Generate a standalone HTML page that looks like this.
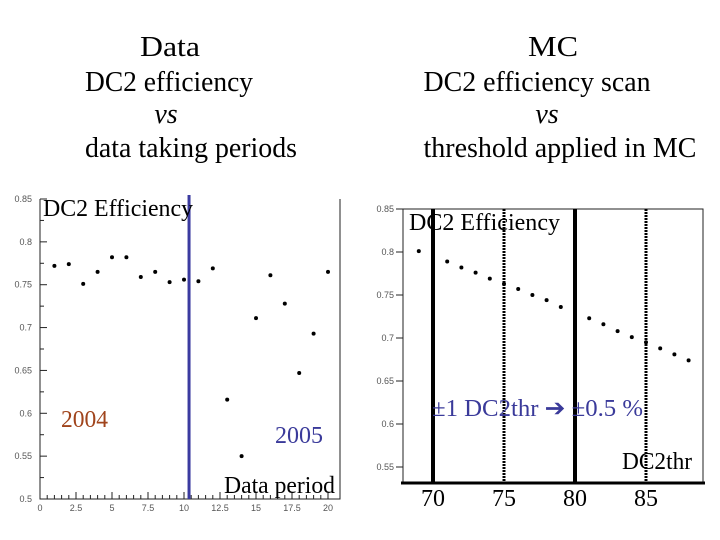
<!DOCTYPE html>
<html><head><meta charset="utf-8"><style>
html,body{margin:0;padding:0;background:#fff;}
svg{display:block;font-family:"Liberation Serif",serif;}
.tk{font-family:"Liberation Sans",sans-serif;font-size:9px;fill:#555;}
</style></head><body>
<svg id="s" width="720" height="540" viewBox="0 0 720 540" xmlns="http://www.w3.org/2000/svg">
<g font-size="28" text-anchor="middle" fill="#000" lengthAdjust="spacingAndGlyphs">
<text x="170" y="56" textLength="60" lengthAdjust="spacingAndGlyphs">Data</text>
<text x="169" y="91" textLength="168" lengthAdjust="spacingAndGlyphs">DC2 efficiency</text>
<text x="166" y="123" font-style="italic">vs</text>
<text x="191" y="157" textLength="212" lengthAdjust="spacingAndGlyphs">data taking periods</text>
<text x="553" y="56" textLength="50" lengthAdjust="spacingAndGlyphs">MC</text>
<text x="537" y="91" textLength="227" lengthAdjust="spacingAndGlyphs">DC2 efficiency scan</text>
<text x="547" y="123" font-style="italic">vs</text>
<text x="560" y="157" textLength="273" lengthAdjust="spacingAndGlyphs">threshold applied in MC</text>
</g>
<g id="left"></g>
<g id="right"></g>
</svg>
<script>
const dataPeriods=[1,2,3,4,5,6,7,8,9,10,11,12,13,14,15,16,17,18,19,20];
const dataEff=[0.772,0.774,0.751,0.765,0.782,0.782,0.759,0.765,0.753,0.756,0.754,0.769,0.616,0.550,0.711,0.761,0.728,0.647,0.693,0.765];
const dataXTicks=["0","2.5","5","7.5","10","12.5","15","17.5","20"];
const dataYTicks=["0.5","0.55","0.6","0.65","0.7","0.75","0.8","0.85"];
const splitPeriod=10.35;
const mcThr=[69,70,71,72,73,74,75,76,77,78,79,80,81,82,83,84,85,86,87,88];
const mcEff=[0.801,0.795,0.789,0.782,0.776,0.769,0.763,0.757,0.750,0.744,0.736,0.730,0.723,0.716,0.708,0.701,0.695,0.688,0.681,0.674];
const mcXTicks=["70","75","80","85"];
const mcYTicks=["0.55","0.6","0.65","0.7","0.75","0.8","0.85"];
const solidLines=[70,80];
const dottedLines=[75,85];

const NS="http://www.w3.org/2000/svg";
function mk(p,t,a){const e=document.createElementNS(NS,t);for(const k in a)e.setAttribute(k,a[k]);p.appendChild(e);return e;}

const L=document.getElementById('left');
const lx=v=>40+(v-0)*(328-40)/20;
const ly=v=>499-(v-0.5)*(300/0.35);
let e;
e=mk(L,'path',{d:`M40 199V499H340V199`,fill:'none',stroke:'#222','stroke-width':1});

dataYTicks.forEach(t=>{const v=+t;
 e=mk(L,'line',{x1:40,x2:47,y1:ly(v),y2:ly(v),stroke:'#222'});
 
 if(v<0.85){const m=mk(L,'line',{x1:40,x2:44,y1:ly(v+0.025),y2:ly(v+0.025),stroke:'#222'});}
 e=mk(L,'text',{x:32,y:ly(v)+3,'text-anchor':'end',class:'tk'});e.textContent=t;
 });
dataXTicks.forEach(t=>{const v=+t;
 e=mk(L,'line',{x1:lx(v),x2:lx(v),y1:499,y2:492,stroke:'#222'});
 
 for(let k=1;k<5&&v<20;k++){const m=mk(L,'line',{x1:lx(v+k*0.5),x2:lx(v+k*0.5),y1:499,y2:495,stroke:'#222'});}
 e=mk(L,'text',{x:lx(v),y:511,'text-anchor':'middle',class:'tk'});e.textContent=t;
 });
dataPeriods.forEach((p,i)=>{e=mk(L,'circle',{cx:lx(p),cy:ly(dataEff[i]),r:2,fill:'#000'});
 });
e=mk(L,'line',{x1:lx(splitPeriod),x2:lx(splitPeriod),y1:195,y2:499,stroke:'#3b3ba0','stroke-width':3});

[[43,216,'DC2 Efficiency','#000','data-chart-title',150],[61,427,'2004','#a0441c','label-2004',47],[275,443,'2005','#3a3a9a','label-2005',48],[224,493,'Data period','#000','x-axis-title',111]].forEach(a=>{
 e=mk(L,'text',{x:a[0],y:a[1],fill:a[3],'font-size':24,textLength:a[5],lengthAdjust:'spacingAndGlyphs'});e.textContent=a[2];
 });

const R=document.getElementById('right');
const rx=v=>433+(v-70)*14.2;
const ry=v=>252-(v-0.8)*(43/0.05);
e=mk(R,'path',{d:`M403 483V209H703V483`,fill:'none',stroke:'#222','stroke-width':1});

e=mk(R,'line',{x1:401,x2:705,y1:483,y2:483,stroke:'#000','stroke-width':3});

mcYTicks.forEach(t=>{const v=+t;
 e=mk(R,'line',{x1:396,x2:403,y1:ry(v),y2:ry(v),stroke:'#222'});
 
 e=mk(R,'text',{x:394,y:ry(v)+3,'text-anchor':'end',class:'tk'});e.textContent=t;
 });
mcXTicks.forEach(t=>{const v=+t;
 e=mk(R,'text',{x:rx(v),y:506,'text-anchor':'middle','font-size':24});e.textContent=t;
 });
solidLines.forEach(v=>{e=mk(R,'line',{x1:rx(v),x2:rx(v),y1:209,y2:483,stroke:'#000','stroke-width':4});
 });
dottedLines.forEach(v=>{e=mk(R,'line',{x1:rx(v),x2:rx(v),y1:209,y2:483,stroke:'#000','stroke-width':3,'stroke-dasharray':'2 1'});
 });
mcThr.forEach((p,i)=>{e=mk(R,'circle',{cx:rx(p),cy:ry(mcEff[i]),r:2,fill:'#000'});
 });
[[409,230,'DC2 Efficiency','#000','mc-chart-title',151],[432,416,'±1 DC2thr ➔ ±0.5 %','#3a3a9a','annotation',211],[622,469,'DC2thr','#000','x-axis-title',70]].forEach(a=>{
 e=mk(R,'text',{x:a[0],y:a[1],fill:a[3],'font-size':24,textLength:a[5],lengthAdjust:'spacingAndGlyphs'});e.textContent=a[2];
 });
</script>
</body></html>
